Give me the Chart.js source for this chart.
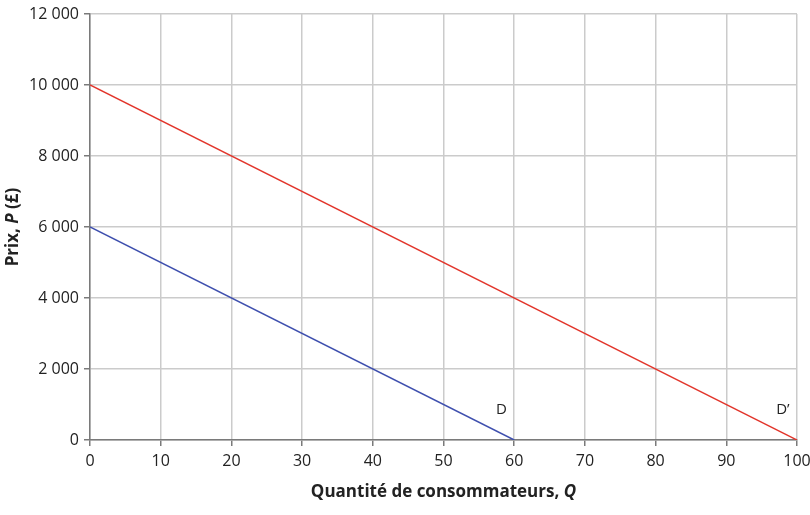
<!DOCTYPE html>
<html lang="fr">
<head>
<meta charset="utf-8">
<script src="https://cdn.jsdelivr.net/npm/chart.js@4"></script>
<style>
  html, body { margin: 0; padding: 0; background: #fff; }
  #wrap { width: 810px; height: 515px; position: relative; }
</style>
</head>
<body>
<div id="wrap"><canvas id="chart"></canvas></div>
<script>
// Données
const quantitesD = [0, 60];
const prixD = [6000, 0];
const quantitesD2 = [0, 100];
const prixD2 = [10000, 0];
const labelD = { text: 'D', x: 58.2, y: 850 };
const labelD2 = { text: 'D\u2019', x: 98.0, y: 850 };
const xTicks = [0, 10, 20, 30, 40, 50, 60, 70, 80, 90, 100];
const yTicks = [0, 2000, 4000, 6000, 8000, 10000, 12000];

const FONT = '"Open Sans", "DejaVu Sans", sans-serif';
const RED = '#e2352b';
const BLUE = '#3e4fae';

function toPoints(xs, ys) {
    return xs.map((x, i) => ({ x: x, y: ys[i] }));
}

function formatNombre(v) {
    return String(v).replace(/\B(?=(\d{3})+(?!\d))/g, ' ');
}

// Titres d'axes (avec italique) et étiquettes des courbes
const annotations = {
    id: 'annotations',
    afterDraw(chart) {
        const ctx = chart.ctx;
        const area = chart.chartArea;
        const sx = chart.scales.x, sy = chart.scales.y;
        ctx.save();
        ctx.fillStyle = '#222';
        ctx.textBaseline = 'middle';

        // étiquettes D et D'
        ctx.font = '15px ' + FONT;
        ctx.textAlign = 'center';
        [labelD, labelD2].forEach(l => {
            ctx.fillText(l.text, sx.getPixelForValue(l.x), sy.getPixelForValue(l.y));
        });

        // titre de l'axe X
        const partsX = [['Quantité de consommateurs, ', 'bold'], ['Q', 'bold italic']];
        drawParts(ctx, partsX, (area.left + area.right) / 2, 492);

        // titre de l'axe Y (vertical)
        ctx.translate(13, (area.top + area.bottom) / 2);
        ctx.rotate(-Math.PI / 2);
        const partsY = [['Prix, ', 'bold'], ['P', 'bold italic'], [' (£)', 'bold']];
        drawParts(ctx, partsY, 0, 0);
        ctx.restore();
    }
};

function drawParts(ctx, parts, cx, cy) {
    ctx.textAlign = 'left';
    let total = 0;
    parts.forEach(p => { ctx.font = p[1] + ' 17px ' + FONT; total += ctx.measureText(p[0]).width; });
    let x = cx - total / 2;
    parts.forEach(p => {
        ctx.font = p[1] + ' 17px ' + FONT;
        ctx.fillText(p[0], x, cy);
        x += ctx.measureText(p[0]).width;
    });
}

new Chart(document.getElementById('chart'), {
    type: 'line',
    data: {
        datasets: [
            { label: 'D', data: toPoints(quantitesD, prixD), borderColor: BLUE, borderWidth: 1.5, pointRadius: 0, tension: 0 },
            { label: 'D\u2019', data: toPoints(quantitesD2, prixD2), borderColor: RED, borderWidth: 1.5, pointRadius: 0, tension: 0 }
        ]
    },
    options: {
        responsive: true,
        maintainAspectRatio: false,
        animation: false,
        layout: { padding: { left: 0, right: 13, top: 14, bottom: 0 } },
        plugins: { legend: { display: false }, tooltip: { enabled: false } },
        scales: {
            x: {
                type: 'linear',
                min: 0, max: 100,
                afterBuildTicks: s => { s.ticks = xTicks.map(v => ({ value: v })); },
                afterFit: s => { s.height = 75; s.paddingLeft = 0; s.paddingRight = 0; },
                grid: { color: '#cbcbcb', lineWidth: 1.5, tickLength: 6, tickColor: '#7a7a7a' },
                border: { color: '#7a7a7a', width: 1.5 },
                ticks: { color: '#222', font: { family: FONT, size: 16 }, padding: 6, maxRotation: 0 }
            },
            y: {
                min: 0, max: 12000,
                afterBuildTicks: s => { s.ticks = yTicks.map(v => ({ value: v })); },
                afterFit: s => { s.width = 90; s.paddingTop = 0; s.paddingBottom = 0; },
                grid: { color: '#cbcbcb', lineWidth: 1.5, tickLength: 6, tickColor: '#7a7a7a' },
                border: { color: '#7a7a7a', width: 1.5 },
                ticks: { color: '#222', font: { family: FONT, size: 16 }, padding: 5, callback: v => formatNombre(v) }
            }
        }
    },
    plugins: [annotations]
});
</script>
</body>
</html>
